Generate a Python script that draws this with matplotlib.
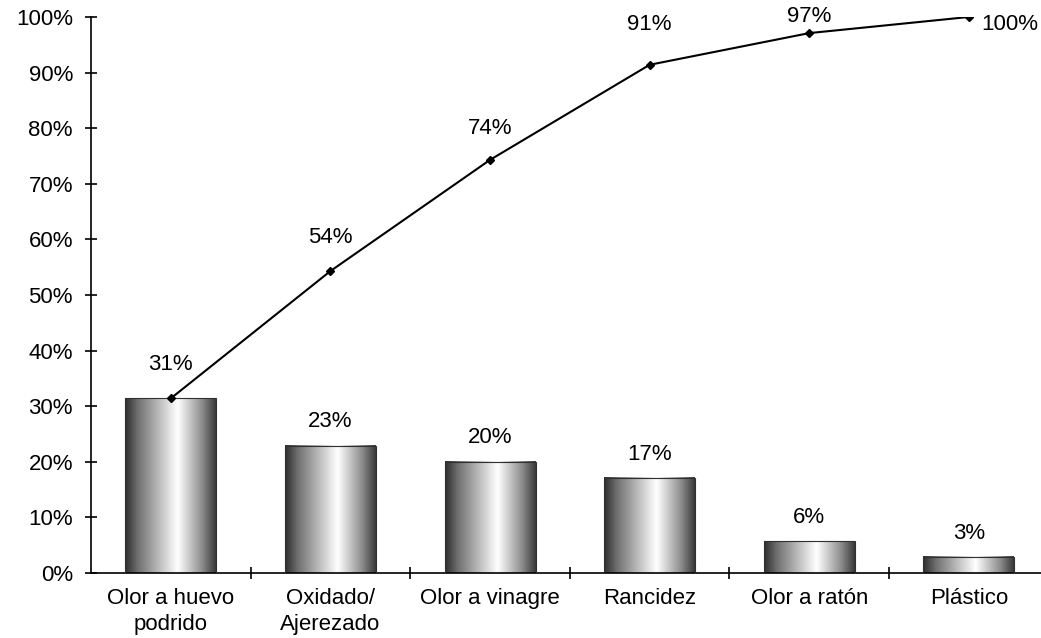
import numpy as np
import matplotlib.pyplot as plt
from matplotlib.ticker import FixedLocator, PercentFormatter

plt.rcParams['font.family'] = ['Liberation Sans', 'DejaVu Sans']

# defectos olfativos detectados (porcentaje de muestras)
defectos = ["Olor a huevo\npodrido", "Oxidado/\nAjerezado", "Olor a vinagre",
            "Rancidez", "Olor a ratón", "Plástico"]
porcentaje = [31.4, 22.9, 20.0, 17.1, 5.7, 2.9]
acumulado = [31.4, 54.3, 74.3, 91.4, 97.1, 100.0]

# separación vertical de las etiquetas de la curva acumulada
sep_etiqueta = [4.2, 4.2, 3.8, 5.4, 1.1]

FS = 16

fig = plt.figure(figsize=(10.41, 6.38), dpi=100)
ax = fig.add_axes([0.0874, 0.1019, 0.920, 0.8715])

x = np.arange(len(defectos))
bars = ax.bar(x, porcentaje, width=0.57, facecolor="none",
              edgecolor="#303030", linewidth=0.8, zorder=3)

# degradado horizontal oscuro-blanco-oscuro dentro de cada barra
t = np.linspace(0, 1, 256)
shade = np.interp(t, [0, 0.15, 0.58, 0.85, 1], [0.18, 0.45, 1.0, 0.55, 0.22])
grad = np.tile(shade, (2, 1))
for i, b in enumerate(bars):
    ax.imshow(grad, cmap="gray", vmin=0, vmax=1, aspect="auto",
              extent=[b.get_x(), b.get_x() + b.get_width(), 0, b.get_height()],
              zorder=2, interpolation="bilinear")
    if i == 0:
        # la primera barra coincide con el primer punto de la curva
        continue
    ax.text(b.get_x() + b.get_width() / 2, b.get_height() + 2.4,
            f"{b.get_height():.0f}%", ha="center", va="bottom", fontsize=FS)

ax.plot(x, acumulado, color="black", linewidth=1.5, marker="D",
        markersize=4.5, zorder=4)
for xi, v, d in zip(x[:-1], acumulado[:-1], sep_etiqueta):
    ax.text(xi, v + d, f"{v:.0f}%", ha="center", va="bottom", fontsize=FS,
            clip_on=False)
ax.text(x[-1] + 0.08, acumulado[-1] - 1.4, f"{acumulado[-1]:.0f}%", ha="left",
        va="center", fontsize=FS)

ax.set_xlim(-0.5, len(defectos) - 0.5)
ax.set_ylim(0, 100)
ax.set_yticks(np.arange(0, 101, 10))
ax.yaxis.set_major_formatter(PercentFormatter(decimals=0))
ax.set_xticks(x)
ax.set_xticklabels(defectos, fontsize=FS, linespacing=1.3)
ax.xaxis.set_minor_locator(FixedLocator(x[:-1] + 0.5))
ax.tick_params(axis="x", which="major", length=0, pad=11)
ax.tick_params(axis="x", which="minor", direction="inout", length=9, width=1.2)
ax.tick_params(axis="y", direction="inout", length=9, width=1.2,
               labelsize=FS, pad=8.5)

for side in ["top", "right"]:
    ax.spines[side].set_visible(False)
for side in ["left", "bottom"]:
    ax.spines[side].set_linewidth(1.2)

fig.savefig("out.png", dpi=100)
